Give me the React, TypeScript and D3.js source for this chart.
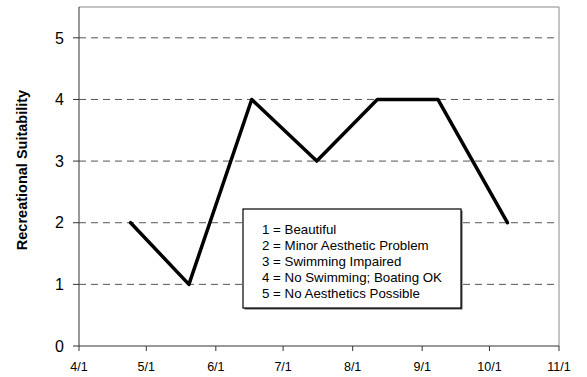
import React from "react";
import * as d3 from "d3";

const dates = ["2005-04-24", "2005-05-20", "2005-06-17", "2005-07-16", "2005-08-12", "2005-09-08", "2005-10-09"];
const suitability = [2, 1, 4, 3, 4, 4, 2];
const xTickDates = ["2005-04-01", "2005-05-01", "2005-06-01", "2005-07-01", "2005-08-01", "2005-09-01", "2005-10-01", "2005-11-01"];
const xTickLabels = ["4/1", "5/1", "6/1", "7/1", "8/1", "9/1", "10/1", "11/1"];
const yTicks = [0, 1, 2, 3, 4, 5];
const legendLines = [
  "1 = Beautiful",
  "2 = Minor Aesthetic Problem",
  "3 = Swimming Impaired",
  "4 = No Swimming; Boating OK",
  "5 = No Aesthetics Possible",
];
const yTitle = "Recreational Suitability";

const W = 587, H = 377;
const m = { left: 79, right: 559, top: 7, bottom: 346 };
const parse = d3.timeParse("%Y-%m-%d");

export default function App() {
  const x = d3.scaleTime()
    .domain([parse(xTickDates[0])!, parse(xTickDates[xTickDates.length - 1])!])
    .range([m.left, m.right]);
  const y = d3.scaleLinear().domain([0, 5.5]).range([m.bottom, m.top]);
  const pts = dates.map((d, i) => [x(parse(d)!), y(suitability[i])] as [number, number]);
  const line = d3.line()(pts) || "";
  const font = "Arial, 'Liberation Sans', sans-serif";
  const lx = 243, ly = 209, lw = 218, lh = 99;
  return (
    <svg width={W} height={H} style={{ position: "absolute", left: 0, top: 0, background: "#fff" }} fontFamily={font}>
      {yTicks.filter(t => t > 0).map(t => (
        <line key={"g" + t} x1={m.left} x2={m.right} y1={y(t)} y2={y(t)} stroke="#555" strokeWidth={1} strokeDasharray="7,5" />
      ))}
      <line x1={m.left} x2={m.right} y1={m.top} y2={m.top} stroke="#888" strokeWidth={1} />
      <line x1={m.right} x2={m.right} y1={m.top} y2={m.bottom} stroke="#888" strokeWidth={1} />
      <line x1={m.left} x2={m.left} y1={m.top} y2={m.bottom} stroke="#333" strokeWidth={1} />
      <line x1={m.left} x2={m.right} y1={m.bottom} y2={m.bottom} stroke="#333" strokeWidth={1} />
      {yTicks.map(t => (
        <g key={"y" + t}>
          <line x1={m.left - 6} x2={m.left} y1={y(t)} y2={y(t)} stroke="#333" strokeWidth={1} />
          <text x={m.left - 15} y={y(t)} dy="0.36em" textAnchor="end" fontSize={16} fill="#000">{t}</text>
        </g>
      ))}
      {xTickDates.map((d, i) => {
        const xx = x(parse(d)!);
        return (
          <g key={"x" + i}>
            <line x1={xx} x2={xx} y1={m.bottom} y2={m.bottom + 5} stroke="#333" strokeWidth={1} />
            <text x={xx} y={367} dy="0.35em" textAnchor="middle" fontSize={12.5} fill="#000">{xTickLabels[i]}</text>
          </g>
        );
      })}
      <text transform={`translate(22,170) rotate(-90)`} textAnchor="middle" dy="0.35em" fontSize={14.5} fontWeight="bold" fill="#000">{yTitle}</text>
      <path d={line} fill="none" stroke="#000" strokeWidth={3.5} strokeLinejoin="round" strokeLinecap="round" />
      <rect x={lx + 1.5} y={ly + 1.5} width={lw} height={lh} fill="#555" />
      <rect x={lx} y={ly} width={lw} height={lh} fill="#fff" stroke="#000" strokeWidth={1.2} />
      {legendLines.map((t, i) => (
        <text key={"l" + i} x={lx + 19} y={ly + 20 + i * 16.1} dy="0.35em" fontSize={13.3} fill="#000">{t}</text>
      ))}
    </svg>
  );
}
